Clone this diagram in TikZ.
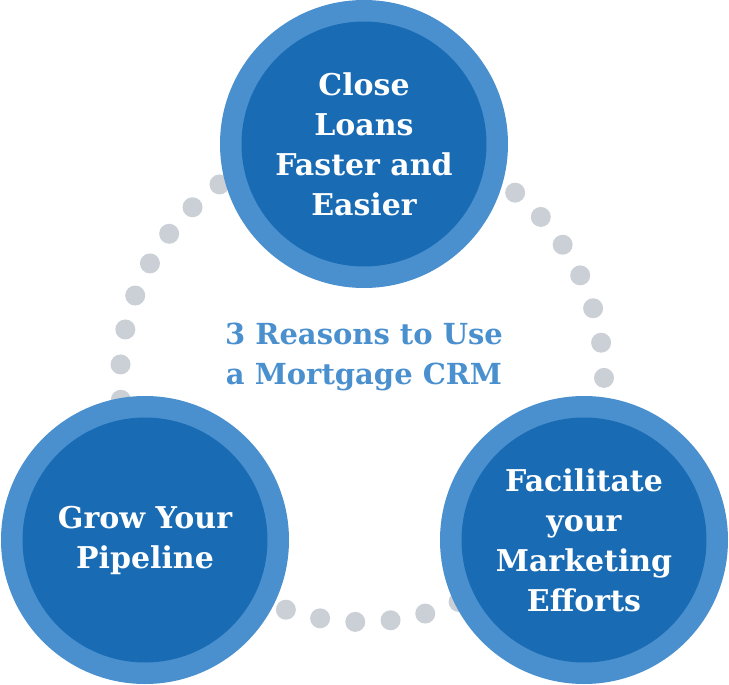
\documentclass[tikz,border=0pt]{standalone}
\usepackage{fontspec}
\setmainfont{DejaVu Serif}
\usepackage{xcolor}
\usetikzlibrary{calc}

\definecolor{ringblue}{HTML}{4A90CF}
\definecolor{coreblue}{HTML}{196CB4}
\definecolor{dotgray}{HTML}{CBCFD6}

\tikzset{
  ring/.style={circle, fill=ringblue, inner sep=0pt, minimum size=288pt},
  core/.style={circle, fill=coreblue, inner sep=0pt, minimum size=245pt,
    text=white, align=center, font=\bfseries\fontsize{30}{40}\selectfont},
}

\begin{document}
\begin{tikzpicture}[x=1pt,y=-1pt]

\useasboundingbox (0,0) rectangle (729,685);

\coordinate (hub) at (362,380);

% dotted ring behind the circles
\foreach \k in {0,...,42}
  \fill[dotgray, shift={(hub)}] (-0.5-\k*360/43:242) circle (10pt);

\node[ring] (closeRing) at (364,144) {};
\node[core] (close) at (closeRing) {Close\\Loans\\Faster and\\Easier};

\node[ring] (growRing) at (145,540) {};
\node[core] (grow) at (growRing) {Grow Your\\Pipeline};

\node[ring] (facilitateRing) at (584,540) {};
\node[core] (facilitate) at (facilitateRing) {Facilitate\\your\\Marketing\\Efforts};

\node[text=ringblue, align=center, font=\bfseries\fontsize{29}{40}\selectfont] (title) at (364,357) {3 Reasons to Use\\a Mortgage CRM};

\end{tikzpicture}
\end{document}
